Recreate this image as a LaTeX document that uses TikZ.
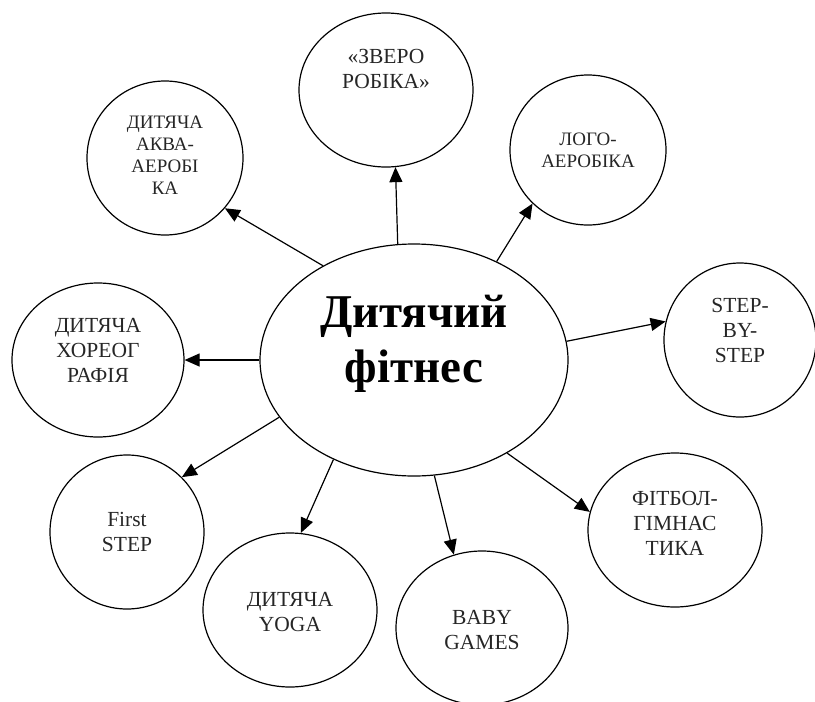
\documentclass[tikz,border=0pt]{standalone}
\usepackage{fontspec}
\setmainfont{Liberation Serif}
\usetikzlibrary{shapes.geometric,arrows.meta}
\tikzset{
  bubble/.style={ellipse, draw, line width=1.2pt, inner sep=0pt},
  tag/.style={align=center, text=black!85, font=\fontsize{21.5}{25}\selectfont},
  small tag/.style={tag, font=\fontsize{19}{22}\selectfont},
  link/.style={line width=1.2pt, -{Triangle[length=15pt,width=13pt]}}
}
\begin{document}
\begin{tikzpicture}[x=1pt,y=-1pt]
        \useasboundingbox (0,0) rectangle (815,702);
        \node[bubble, minimum width=308pt, minimum height=232pt,
          label={[name=title, yshift=16pt, align=center, font=\fontsize{47}{55}\selectfont\bfseries]center:Дитячий\\фітнес}] (centre) at (414,360) {};
        \node[bubble, minimum width=156pt, minimum height=154pt,
          label={[small tag, name=akva-t, yshift=3pt]center:ДИТЯЧА\\АКВА-\\АЕРОБІ\\КА}] (akva) at (165,158) {};
        \node[bubble, minimum width=174pt, minimum height=154pt,
          label={[tag, name=zvero-t, yshift=21pt]center:«ЗВЕРО\\РОБІКА»}] (zvero) at (386,90) {};
        \node[bubble, minimum width=156pt, minimum height=150pt,
          label={[small tag, name=logo-t]center:ЛОГО-\\АЕРОБІКА}] (logo) at (588,150) {};
        \node[bubble, minimum width=152pt, minimum height=154pt,
          label={[tag, name=step-t, yshift=10pt]center:STEP-\\BY-\\STEP}] (step) at (740,340) {};
        \node[bubble, minimum width=172pt, minimum height=154pt,
          label={[tag, name=choreo-t, yshift=10pt]center:ДИТЯЧА\\ХОРЕОГ\\РАФІЯ}] (choreo) at (98,360) {};
        \node[bubble, minimum width=154pt, minimum height=154pt,
          label={[tag, name=first-t]center:First\\STEP}] (first) at (127,532) {};
        \node[bubble, minimum width=174pt, minimum height=154pt,
          label={[tag, name=yoga-t, yshift=-2pt]center:ДИТЯЧА\\YOGA}] (yoga) at (290,610) {};
        \node[bubble, minimum width=172pt, minimum height=154pt,
          label={[tag, name=baby-t, yshift=-2pt]center:BABY\\GAMES}] (baby) at (482,628) {};
        \node[bubble, minimum width=174pt, minimum height=154pt,
          label={[tag, name=fitbol-t, yshift=7pt]center:ФІТБОЛ-\\ГІМНАС\\ТИКА}] (fitbol) at (675,530) {};
        \draw[link] (centre.134) -- (akva.320);
        \draw[link] (centre.98.8) -- (zvero.277.3);
        \draw[link] (centre.50.8) -- (logo.224.5);
        \draw[link] (centre.7.1) -- (step.166.7);
        \draw[link] (centre.180) -- (choreo.0);
        \draw[link] (centre.203.4) -- (first.45.5);
        \draw[link] (centre.231.6) -- (yoga.82);
        \draw[link] (centre.280.3) -- (baby.111.3);
        \draw[link] (centre.315) -- (fitbol.168.4);
\end{tikzpicture}
\end{document}
